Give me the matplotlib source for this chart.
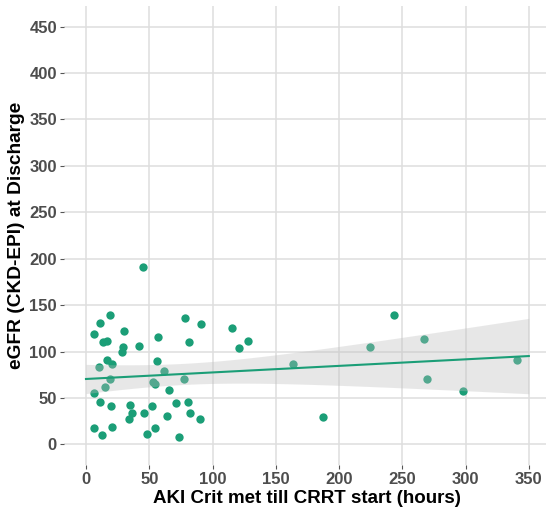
import numpy as np
import matplotlib
matplotlib.use("Agg")
import matplotlib.pyplot as plt

# hours from AKI criteria to CRRT start, and eGFR at discharge
hours = [45.4, 19.0, 11.0, 6.3, 29.7, 13.2, 16.5, 29.5, 28.4, 41.6,
         56.7, 78.2, 90.9, 81.5, 115.1, 120.6, 128.1, 16.5, 20.9, 56.2,
         10.2, 18.7, 15.4, 61.4, 53.2, 54.5, 77.4, 6.3, 11.3, 20.1,
         34.7, 52.1, 65.5, 71.1, 80.7, 36.6, 33.9, 45.7, 64.2, 82.3,
         90.3, 6.6, 20.4, 12.4, 47.9, 54.3, 73.3, 163.6, 187.6, 224.2,
         243.7, 266.9, 269.9, 298.3, 341.0]
egfr = [191.5, 139.5, 131.2, 118.7, 122.6, 110.1, 110.8, 104.7, 99.7, 105.8,
        115.8, 136.2, 129.4, 110.4, 125.5, 104.0, 111.5, 90.7, 86.8, 90.0,
        83.2, 70.6, 62.0, 79.2, 67.0, 65.3, 70.6, 54.9, 45.9, 41.2,
        42.7, 41.2, 58.1, 44.8, 45.2, 33.3, 27.6, 33.3, 30.1, 33.3,
        26.9, 17.6, 19.0, 9.7, 10.8, 17.9, 8.2, 86.4, 29.8, 105.1,
        139.5, 114.0, 70.6, 57.4, 90.4]

x_ticks = [0, 50, 100, 150, 200, 250, 300, 350]
y_ticks = [0, 50, 100, 150, 200, 250, 300, 350, 400, 450]

green = "#1B9E77"
plt.rcParams['font.family'] = ['Liberation Sans', 'DejaVu Sans']

x = np.array(hours)
y = np.array(egfr)

# linear fit with 95% confidence band, drawn over the full x range
n = len(x)
slope, intercept = np.polyfit(x, y, 1)
resid = y - (slope * x + intercept)
s = np.sqrt(np.sum(resid ** 2) / (n - 2))
xs = np.linspace(0, 350, 100)
fit = slope * xs + intercept
se = s * np.sqrt(1.0 / n + (xs - x.mean()) ** 2 / np.sum((x - x.mean()) ** 2))
t = 2.0057
lo = fit - t * se
hi = fit + t * se

fig = plt.figure(figsize=(5.46, 5.13), dpi=100)
ax = fig.add_axes([0.1169, 0.0932, 0.8922, 0.8955])

ax.scatter(x, y, s=36, color=green, linewidths=0, zorder=2)
ax.fill_between(xs, lo, hi, color="#BDBDBD", alpha=0.35, linewidth=0, zorder=3)
ax.plot(xs, fit, color=green, linewidth=1.5, zorder=4)

ax.set_xlim(-17.5, 367.5)
ax.set_ylim(-22.5, 472.5)
ax.set_xticks(x_ticks)
ax.set_yticks(y_ticks)
ax.grid(True, color="#DEDEDE", linewidth=1.1)
ax.set_axisbelow(True)
for sp in ax.spines.values():
    sp.set_visible(False)

ax.tick_params(axis="both", colors="#555555", length=3, width=0.8, pad=2,
               labelsize=12, labelcolor="#4D4D4D")
for lab in ax.get_xticklabels() + ax.get_yticklabels():
    lab.set_fontweight("bold")

ax.set_xlabel("AKI Crit met till CRRT start (hours)", fontsize=13.5,
              fontweight="bold", color="black", labelpad=2)
ax.set_ylabel("eGFR (CKD-EPI) at Discharge", fontsize=13.8,
              fontweight="bold", color="black", labelpad=3)

fig.savefig("out.png", dpi=100)
